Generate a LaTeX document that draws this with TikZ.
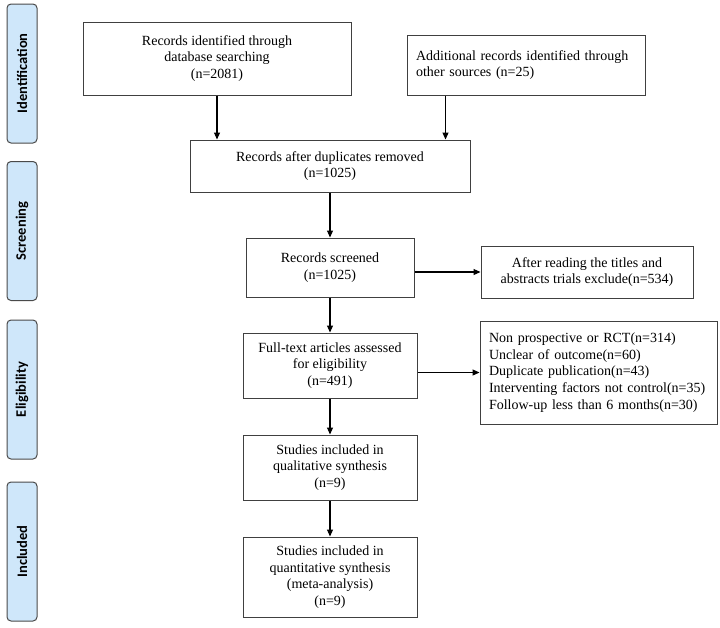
\documentclass[tikz,border=0pt]{standalone}
\usepackage{fontspec}
\setmainfont{Liberation Serif}
\newfontfamily\sidefont{Carlito}
\usetikzlibrary{arrows.meta}
\definecolor{boxline}{HTML}{404040}
\definecolor{sidefill}{HTML}{CFE7FA}
\definecolor{sideline}{HTML}{4A4A4A}
\begin{document}
\begin{tikzpicture}[x=1pt,y=1pt,
  flow/.style={draw=boxline, line width=1pt, rectangle, align=center, inner sep=2pt,
    font=\fontsize{14}{16.7}\selectfont, text=black},
  flowl/.style={flow, align=left},
  side/.style={draw=sideline, fill=sidefill, line width=1pt, rounded corners=4pt,
    minimum width=139pt, minimum height=30pt, rotate=90,
    font=\sidefont\bfseries\fontsize{14.5}{16}\selectfont},
  arr/.style={draw=black, line width=1.1pt, -{Triangle[length=7pt,width=6pt]}}]
\useasboundingbox (0,0) rectangle (720,-627);

% side labels
\node[side] (s1) at (22,-73.5) {Identification};
\node[side] (s2) at (22,-231) {Screening};
\node[side] (s3) at (22,-389.5) {Eligibility};
\node[side] (s4) at (22,-551.5) {Included};

% flow boxes
\node[flow, minimum width=268pt, minimum height=73pt] (b1) at (217,-58.5)
  {Records identified through\\database searching\\(n=2081)};
\node[flowl, minimum width=238pt, minimum height=60pt, text width=220pt] (b2) at (526,-65)
  {Additional records identified through\\other sources (n=25)\\[5pt]};
\node[flow, minimum width=280pt, minimum height=52pt] (b3) at (330,-166)
  {Records after duplicates removed\\(n=1025)};
\node[flow, minimum width=168pt, minimum height=59pt] (b4) at (330,-267.5)
  {Records screened\\(n=1025)};
\node[flow, minimum width=212pt, minimum height=52pt] (b5) at (587,-272)
  {After reading the titles and\\abstracts trials exclude(n=534)};
\node[flow, minimum width=174pt, minimum height=65pt] (b6) at (330,-365.5)
  {Full-text articles assessed\\for eligibility\\(n=491)};
\node[flowl, minimum width=237pt, minimum height=103pt, text width=219pt] (b7) at (598.5,-372.5)
  {Non prospective or RCT(n=314)\\Unclear of outcome(n=60)\\Duplicate publication(n=43)\\Interventing factors not control(n=35)\\Follow-up less than 6 months(n=30)};
\node[flow, minimum width=174pt, minimum height=65pt] (b8) at (330,-467.5)
  {Studies included in\\qualitative synthesis\\(n=9)};
\node[flow, minimum width=174pt, minimum height=80pt] (b9) at (330,-577)
  {Studies included in\\quantitative synthesis\\(meta-analysis)\\(n=9)};

% connectors
\draw[arr] (b1.south) -- (b1.south |- b3.north);
\path (b2.south west) ++(39,0) coordinate (a2);
\draw[arr] (a2) -- (a2 |- b3.north);
\draw[arr] (b3.south) -- (b4.north);
\draw[arr] (b5.west -| b4.east) -- (b5.west);
\draw[arr] (b4.south) -- (b6.north);
\draw[arr] (b7.west -| b6.east) -- (b7.west);
\draw[arr] (b6.south) -- (b8.north);
\draw[arr] (b8.south) -- (b9.north);
\end{tikzpicture}
\end{document}
